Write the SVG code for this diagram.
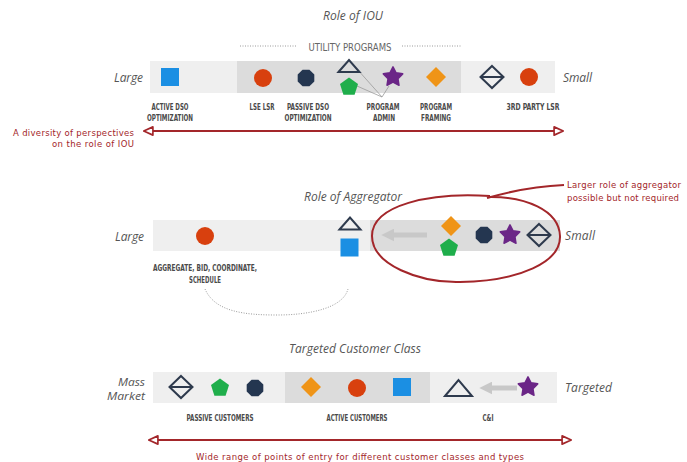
<svg xmlns="http://www.w3.org/2000/svg" xmlns:xlink="http://www.w3.org/1999/xlink" width="687" height="462" viewBox="0 0 687 462">
<style>
.title{font-family:"Open Sans","DejaVu Sans",sans-serif;font-style:italic;font-size:12px;fill:#555}
.side{font-family:"Open Sans","DejaVu Sans",sans-serif;font-style:italic;font-size:12px;fill:#555}
.side2{font-family:"Open Sans","DejaVu Sans",sans-serif;font-style:italic;font-size:10px;fill:#555}
.lbl{font-family:"DejaVu Sans Condensed","DejaVu Sans",sans-serif;font-weight:bold;font-size:8px;fill:#4a4a4a;text-anchor:middle}
.up{font-family:"DejaVu Sans Condensed","DejaVu Sans",sans-serif;font-size:11px;fill:#666;text-anchor:middle}
.hand{font-family:"DejaVu Sans",sans-serif;font-size:8.5px;fill:#a3262a}
.band{fill:#efefef}
.bandd{fill:#dcdcdc}
.red{fill:#d8400e}
.navy{fill:#243650}
.blue{fill:#1b8fe3}
.green{fill:#1fae4b}
.purple{fill:#6b2687;stroke:#6b2687;stroke-width:1.5;stroke-linejoin:round}
.orange{fill:#ef9417}
.outl{fill:none;stroke:#2e3a4d;stroke-width:2;stroke-linejoin:miter}
.redline{fill:none;stroke:#a3262a;stroke-width:2}
.grayarrow{fill:none;stroke:#c8c8c8;stroke-width:5}
.lead{fill:none;stroke:#9a9a9a;stroke-width:0.8}
.dots{fill:none;stroke:#9a9a9a;stroke-width:1;stroke-dasharray:1 1.5}
</style>
<defs>
<marker id="openhead" viewBox="0 0 12 12" refX="2" refY="6" markerWidth="5.5" markerHeight="5.5" orient="auto-start-reverse" markerUnits="strokeWidth">
<path d="M1,1.5 L11,6 L1,10.5 Z" fill="#fff" stroke="#a3262a" stroke-width="1.8" stroke-linejoin="round"/>
</marker>
<marker id="grayhead" viewBox="0 0 10 10" refX="1" refY="5" markerWidth="2.6" markerHeight="2.6" orient="auto" markerUnits="strokeWidth">
<path d="M0,0 L10,5 L0,10 Z" fill="#c8c8c8"/>
</marker>
<circle id="circ" r="9"/>
<polygon id="oct" points="3.44,-8.31 8.31,-3.44 8.31,3.44 3.44,8.31 -3.44,8.31 -8.31,3.44 -8.31,-3.44 -3.44,-8.31"/>
<polygon id="pent" points="0,-9.5 9.03,-2.94 5.58,7.69 -5.58,7.69 -9.03,-2.94"/>
<polygon id="star" points="0,-10.2 3.06,-4.21 9.7,-3.15 4.95,1.61 6,8.25 0,5.2 -6,8.25 -4.95,1.61 -9.7,-3.15 -3.06,-4.21"/>
<polygon id="dia" points="0,-10 10,0 0,10 -10,0"/>
<rect id="sq" x="-9" y="-9" width="18" height="18"/>
<g id="odia"><polygon points="0,-11 11.5,0 0,11 -11.5,0"/><line x1="-11.5" y1="0" x2="11.5" y2="0"/></g>
<polygon id="tri" points="-10.5,6 0,-6 10.5,6"/>
<polygon id="trib" points="-13.5,8 0,-8 13.5,8"/>
</defs>

<!-- bands -->
<g id="sec1-band">
<rect class="band" x="150" y="61" width="405" height="32"/>
<rect class="bandd" x="237" y="61" width="224" height="32"/>
</g>
<g id="sec2-band"><rect class="band" x="153" y="220" width="407" height="31"/>
<rect class="bandd" x="370" y="220" width="190" height="31"/></g>
<g id="sec3-band"><rect class="band" x="153" y="372" width="404" height="31"/>
<rect class="bandd" x="285" y="372" width="145" height="31"/></g>

<!-- ===== Section 1: Role of IOU ===== -->
<g id="sec1-title"><text class="title" x="353" y="20" text-anchor="middle" textLength="60">Role of IOU</text></g>
<g id="sec1-utility">
<line class="dots" x1="240" y1="46" x2="297" y2="46"/>
<line class="dots" x1="402" y1="46" x2="462" y2="46"/>
<text class="up" x="350" y="51" textLength="83" lengthAdjust="spacingAndGlyphs">UTILITY PROGRAMS</text>
</g>
<g id="sec1-large"><text class="side" x="143" y="82" text-anchor="end" textLength="29">Large</text></g>
<g id="sec1-small"><text class="side" x="563" y="82" textLength="29">Small</text></g>

<g id="connectors">
<g id="sec1-leaders">
<line class="lead" x1="357" y1="69" x2="382" y2="97"/>
<line class="lead" x1="357" y1="86" x2="382" y2="97"/>
<line class="lead" x1="389" y1="86" x2="382" y2="97"/>
</g>
<path id="iou-arrow" class="redline" d="M152,131 L555,131" marker-start="url(#openhead)" marker-end="url(#openhead)"/>
<path id="agg-gray-arrow" class="grayarrow" d="M427,235 L393,235" marker-end="url(#grayhead)"/>
<path id="agg-ellipse" class="redline" d="M490,196 C430,192 372,205 372,236 C372,265 420,283 460,282 C520,281 561,262 560,236 C559,210 525,196 487,197" />
<path id="agg-leader" class="redline" stroke-width="1.6" d="M487,198 C515,190 540,186 564,185"/>
<path id="agg-dots" class="dots" d="M205,289 C215,312 245,315 277,315 C310,315 343,308 348,289"/>
<path id="cust-gray-arrow" class="grayarrow" d="M517,388 L491,388" marker-end="url(#grayhead)"/>
<path id="cust-arrow" class="redline" d="M157,440 L563,440" marker-start="url(#openhead)" marker-end="url(#openhead)"/>
</g>

<g id="n-active-dso"><use href="#sq" class="blue" x="170" y="77"/>
<text class="lbl" x="170" y="109.5" textLength="37" lengthAdjust="spacingAndGlyphs">ACTIVE DSO</text>
<text class="lbl" x="170" y="120.5" textLength="46" lengthAdjust="spacingAndGlyphs">OPTIMIZATION</text></g>
<g id="n-lse-lsr"><use href="#circ" class="red" x="263" y="78"/>
<text class="lbl" x="262" y="109.5" textLength="25" lengthAdjust="spacingAndGlyphs">LSE LSR</text></g>
<g id="n-passive-dso"><use href="#oct" class="navy" x="306" y="78"/>
<text class="lbl" x="308" y="109.5" textLength="42" lengthAdjust="spacingAndGlyphs">PASSIVE DSO</text>
<text class="lbl" x="308" y="120.5" textLength="47" lengthAdjust="spacingAndGlyphs">OPTIMIZATION</text></g>
<g id="n-iou-tri"><use href="#tri" class="outl" x="349" y="66"/></g>
<g id="n-iou-pent"><use href="#pent" class="green" x="349" y="87"/></g>
<g id="n-program-admin"><use href="#star" class="purple" x="393" y="77"/>
<text class="lbl" x="383" y="109.5" textLength="33" lengthAdjust="spacingAndGlyphs">PROGRAM</text>
<text class="lbl" x="384" y="120.5" textLength="22" lengthAdjust="spacingAndGlyphs">ADMIN</text></g>
<g id="n-program-framing"><use href="#dia" class="orange" x="436" y="77"/>
<text class="lbl" x="436" y="109.5" textLength="32" lengthAdjust="spacingAndGlyphs">PROGRAM</text>
<text class="lbl" x="436" y="120.5" textLength="30" lengthAdjust="spacingAndGlyphs">FRAMING</text></g>
<g id="n-iou-odia"><use href="#odia" class="outl" x="492" y="77"/></g>
<g id="n-3rd-party"><use href="#circ" class="red" x="529" y="77"/>
<text class="lbl" x="533" y="109.5" textLength="53" lengthAdjust="spacingAndGlyphs">3RD PARTY LSR</text></g>
<g id="note-iou">
<text class="hand" x="134" y="136" text-anchor="end" textLength="121">A diversity of perspectives</text>
<text class="hand" x="134" y="147" text-anchor="end" textLength="82">on the role of IOU</text>
</g>

<!-- ===== Section 2: Role of Aggregator ===== -->
<g id="sec2-title"><text class="title" x="353" y="201" text-anchor="middle" textLength="98">Role of Aggregator</text></g>
<g id="sec2-large"><text class="side" x="144" y="241" text-anchor="end" textLength="29">Large</text></g>
<g id="sec2-small"><text class="side" x="565" y="240" textLength="30">Small</text></g>
<g id="n-agg-circle"><use href="#circ" class="red" x="205" y="236"/>
<text class="lbl" x="205" y="271" textLength="104" lengthAdjust="spacingAndGlyphs">AGGREGATE, BID, COORDINATE,</text>
<text class="lbl" x="205" y="282.5" textLength="32" lengthAdjust="spacingAndGlyphs">SCHEDULE</text></g>
<g id="n-agg-tri"><use href="#tri" class="outl" x="350" y="223.5"/></g>
<g id="n-agg-sq"><use href="#sq" class="blue" x="349.5" y="247.5"/></g>
<g id="n-agg-dia"><use href="#dia" class="orange" x="451" y="226"/></g>
<g id="n-agg-pent"><use href="#pent" class="green" x="449" y="248"/></g>
<g id="n-agg-oct"><use href="#oct" class="navy" x="484" y="235"/></g>
<g id="n-agg-star"><use href="#star" class="purple" x="510" y="235"/></g>
<g id="n-agg-odia"><use href="#odia" class="outl" x="539" y="235"/></g>
<g id="note-agg">
<text class="hand" x="567" y="188" textLength="114">Larger role of aggregator</text>
<text class="hand" x="567" y="201" textLength="112">possible but not required</text>
</g>

<!-- ===== Section 3: Targeted Customer Class ===== -->
<g id="sec3-title"><text class="title" x="355" y="353" text-anchor="middle" textLength="132">Targeted Customer Class</text></g>
<g id="sec3-mass"><text class="side2" x="145" y="385.5" text-anchor="end" textLength="27" lengthAdjust="spacingAndGlyphs">Mass</text>
<text class="side2" x="145" y="399.5" text-anchor="end" textLength="38" lengthAdjust="spacingAndGlyphs">Market</text></g>
<g id="sec3-targeted"><text class="side" x="565" y="392" textLength="47">Targeted</text></g>
<g id="n-cust-odia"><use href="#odia" class="outl" x="181" y="387"/></g>
<g id="n-cust-pent"><use href="#pent" class="green" x="220" y="388"/></g>
<g id="n-cust-oct"><use href="#oct" class="navy" x="255" y="388"/></g>
<g id="lbl-passive"><text class="lbl" x="220" y="421" textLength="67" lengthAdjust="spacingAndGlyphs">PASSIVE CUSTOMERS</text></g>
<g id="n-cust-dia"><use href="#dia" class="orange" x="311" y="387"/></g>
<g id="n-cust-circ"><use href="#circ" class="red" x="357" y="388"/></g>
<g id="n-cust-sq"><use href="#sq" class="blue" x="402" y="387"/></g>
<g id="lbl-active"><text class="lbl" x="357" y="421" textLength="61" lengthAdjust="spacingAndGlyphs">ACTIVE CUSTOMERS</text></g>
<g id="n-cust-tri"><use href="#trib" class="outl" x="458.5" y="388"/></g>
<g id="n-cust-star"><use href="#star" class="purple" x="528" y="387"/></g>
<g id="lbl-ci"><text class="lbl" x="488" y="421" textLength="11" lengthAdjust="spacingAndGlyphs">C&amp;I</text></g>
<g id="note-cust"><text class="hand" x="360" y="460" text-anchor="middle" textLength="328">Wide range of points of entry for different customer classes and types</text></g>
</svg>
